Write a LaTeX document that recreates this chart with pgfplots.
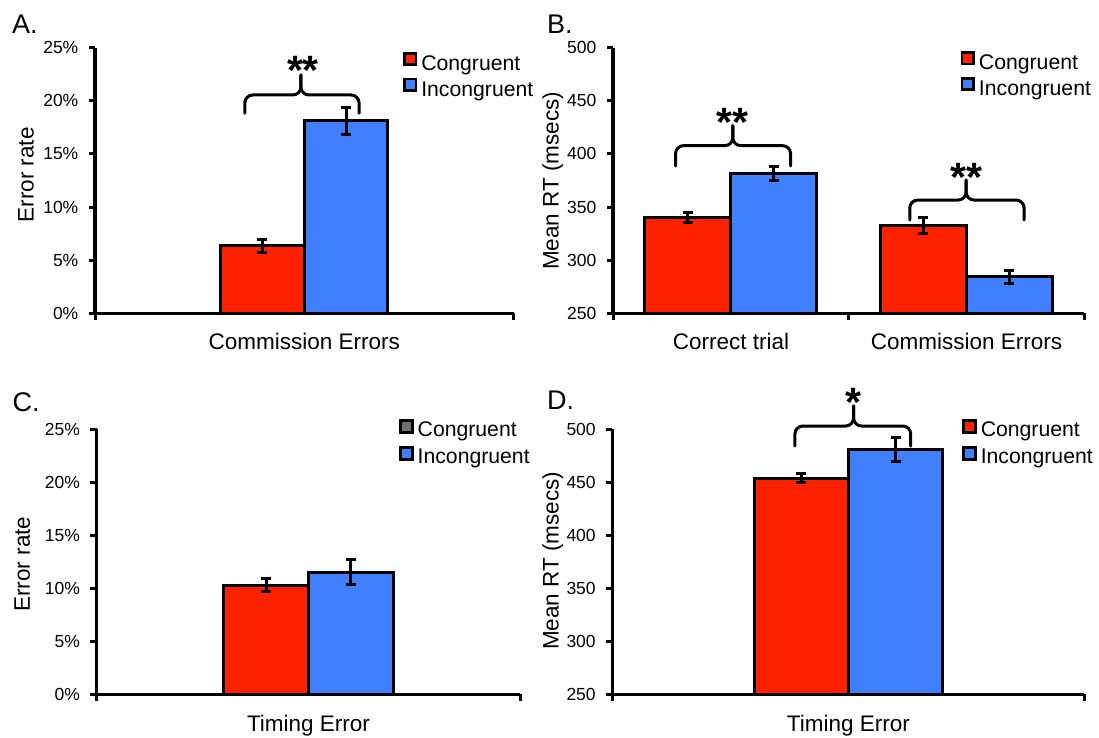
\documentclass[border=0pt]{standalone}
\usepackage{pgfplots}
\pgfplotsset{compat=1.18}
\usepackage{fontspec}
\setmainfont{Liberation Sans}
\definecolor{cred}{HTML}{FF2200}
\definecolor{cblue}{HTML}{4080FF}
\definecolor{cgray}{HTML}{707070}
\newcommand\tickfont{\fontsize{17.5bp}{20bp}\selectfont}
\newcommand\labfont{\fontsize{22.5bp}{26bp}\selectfont}
\newcommand\legfont{\fontsize{21.2bp}{24bp}\selectfont}
\newcommand\panfont{\fontsize{27bp}{30bp}\selectfont}
\newcommand\starfont{\fontsize{41bp}{44bp}\selectfont\bfseries}
% bracket: x1, x2, xm, yTip, yHoriz, yPeak
\newcommand\sigbrace[6]{%
  \draw[line width=3bp, rounded corners=8bp, line cap=round] (axis cs:#1,#4) -- (axis cs:#1,#5) -- (axis cs:#3,#5) -- (axis cs:#3,#6);
  \draw[line width=3bp, rounded corners=8bp, line cap=round] (axis cs:#2,#4) -- (axis cs:#2,#5) -- (axis cs:#3,#5) -- (axis cs:#3,#6);
}
\pgfplotsset{
  panel/.style={
    scale only axis,
    anchor=south west,
    axis x line=bottom, axis y line=left,
    axis line style={line width=3.5bp, -, black},
    tick align=outside,
    major tick length=6.5bp,
    tick style={line width=3bp, black},
    xticklabels={},
    yticklabel style={font=\tickfont, inner sep=0pt, anchor=east, xshift=-10bp},
    clip mode=individual,
    legend style={draw=none, fill=none, anchor=north west, inner sep=0pt, outer sep=0pt,
      font=\legfont, column sep=4bp, row sep=0pt, cells={anchor=west},
      nodes={inner sep=0pt, text height=15.5bp, text depth=7.2bp}},
    legend image code/.code={\draw[##1, draw=black, line width=2.8bp] (0bp,1.5bp) rectangle (11.5bp,13bp);},
  },
  bar/.style={ybar, bar width=#1, bar shift=0pt, draw=black, line width=3bp, forget plot,
    error bars/y dir=both, error bars/y explicit,
    error bars/error bar style={line width=3bp, black, solid},
    error bars/error mark options={rotate=90, mark size=5bp, line width=3bp, black}},
}
\begin{document}
\begin{tikzpicture}
\useasboundingbox (0,0) rectangle (1099bp,738bp);
% ---------------- A ----------------
\begin{axis}[panel, at={(95bp,424.7bp)}, width=418.5bp, height=265.6bp,
  xmin=0, xmax=1, xtick={0,1}, ymin=0, ymax=25, ytick={0,5,10,15,20,25},
  yticklabels={0\%,5\%,10\%,15\%,20\%,25\%},
  legend style={at={(0.736,0.9846)}}]
\addplot[bar=0.2, fill=cred] coordinates {(0.4,6.37) +- (0,0.61)};
\addplot[bar=0.2, fill=cblue] coordinates {(0.6,18.1) +- (0,1.24)};
\addlegendimage{fill=cred}\addlegendentry{Congruent}
\addlegendimage{fill=cblue}\addlegendentry{Incongruent}
\sigbrace{0.358}{0.631}{0.492}{18.83}{20.55}{22.44}
\node[font=\starfont, anchor=base, inner sep=0pt, yshift=-23.3bp] at (axis cs:0.497,23.75) {**};
\node[anchor=base, font=\labfont, inner sep=0pt] at ([yshift=-36.7bp]axis description cs:0.5,0) {Commission Errors};
\node[rotate=90, anchor=base, font=\labfont, inner sep=0pt] at ([xshift=-61.4bp]axis description cs:0,0.521) {Error rate};
\end{axis}
% ---------------- B ----------------
\begin{axis}[panel, at={(613.1bp,424.7bp)}, width=471.3bp, height=265.6bp,
  xmin=0, xmax=2, xtick={0,1,2}, ymin=250, ymax=500, ytick={250,300,350,400,450,500},
  yticklabels={250,300,350,400,450,500},
  legend style={at={(0.7375,0.987)}}]
\addplot[bar=0.365, fill=cred] coordinates {(0.3175,340) +- (0,4.9) (1.3165,333) +- (0,7.5)};
\addplot[bar=0.365, fill=cblue] coordinates {(0.682,382) +- (0,6.6) (1.681,284.5) +- (0,6.0)};
\addlegendimage{fill=cred}\addlegendentry{Congruent}
\addlegendimage{fill=cblue}\addlegendentry{Incongruent}
\sigbrace{0.265}{0.753}{0.508}{388.6}{407.8}{426.6}
\node[font=\starfont, anchor=base, inner sep=0pt, yshift=-23.3bp] at (axis cs:0.508,438.3) {**};
\sigbrace{1.259}{1.744}{1.498}{337.8}{356.6}{375.5}
\node[font=\starfont, anchor=base, inner sep=0pt, yshift=-23.3bp] at (axis cs:1.498,386.5) {**};
\node[anchor=base, font=\labfont, inner sep=0pt] at ([yshift=-36.7bp]axis cs:0.5,250) {Correct trial};
\node[anchor=base, font=\labfont, inner sep=0pt] at ([yshift=-36.7bp]axis cs:1.5,250) {Commission Errors};
\node[rotate=90, anchor=base, font=\labfont, inner sep=0pt] at ([xshift=-54.6bp]axis description cs:0,0.499) {Mean RT (msecs)};
\end{axis}
% ---------------- C ----------------
\begin{axis}[panel, at={(96.7bp,43.7bp)}, width=423.6bp, height=265bp,
  xmin=0, xmax=1, xtick={0,1}, ymin=0, ymax=25, ytick={0,5,10,15,20,25},
  yticklabels={0\%,5\%,10\%,15\%,20\%,25\%},
  legend style={at={(0.7146,1.037)}, nodes={text depth=9.5bp}}]
\addplot[bar=0.2, fill=cred] coordinates {(0.4,10.31) +- (0,0.60)};
\addplot[bar=0.2, fill=cblue] coordinates {(0.6,11.51) +- (0,1.18)};
\addlegendimage{fill=cgray}\addlegendentry{Congruent}
\addlegendimage{fill=cblue}\addlegendentry{Incongruent}
\node[anchor=base, font=\labfont, inner sep=0pt] at ([yshift=-37.4bp]axis description cs:0.5,0) {Timing Error};
\node[rotate=90, anchor=base, font=\labfont, inner sep=0pt] at ([xshift=-66.9bp]axis description cs:0,0.491) {Error rate};
\end{axis}
% ---------------- D ----------------
\begin{axis}[panel, at={(612.4bp,43.7bp)}, width=472bp, height=265bp,
  xmin=0, xmax=1, xtick={0,1}, ymin=250, ymax=500, ytick={250,300,350,400,450,500},
  yticklabels={250,300,350,400,450,500},
  legend style={at={(0.7417,1.037)}, nodes={text depth=9.5bp}}]
\addplot[bar=0.2, fill=cred] coordinates {(0.4,453.8) +- (0,4.2)};
\addplot[bar=0.2, fill=cblue] coordinates {(0.6,480.5) +- (0,11.3)};
\addlegendimage{fill=cred}\addlegendentry{Congruent}
\addlegendimage{fill=cblue}\addlegendentry{Incongruent}
\sigbrace{0.3866}{0.632}{0.511}{484.2}{503.1}{522}
\node[font=\starfont, anchor=base, inner sep=0pt, yshift=-23.3bp] at (axis cs:0.511,534) {*};
\node[anchor=base, font=\labfont, inner sep=0pt] at ([yshift=-37.4bp]axis description cs:0.5,0) {Timing Error};
\node[rotate=90, anchor=base, font=\labfont, inner sep=0pt] at ([xshift=-53.9bp]axis description cs:0,0.504) {Mean RT (msecs)};
\end{axis}
% panel letters
\node[anchor=base west, inner sep=0pt, font=\panfont] at (12bp,704.7bp) {A.};
\node[anchor=base west, inner sep=0pt, font=\panfont] at (547bp,704.7bp) {B.};
\node[anchor=base west, inner sep=0pt, font=\panfont] at (12.5bp,326.5bp) {C.};
\node[anchor=base west, inner sep=0pt, font=\panfont] at (547bp,328bp) {D.};
\end{tikzpicture}
\end{document}
